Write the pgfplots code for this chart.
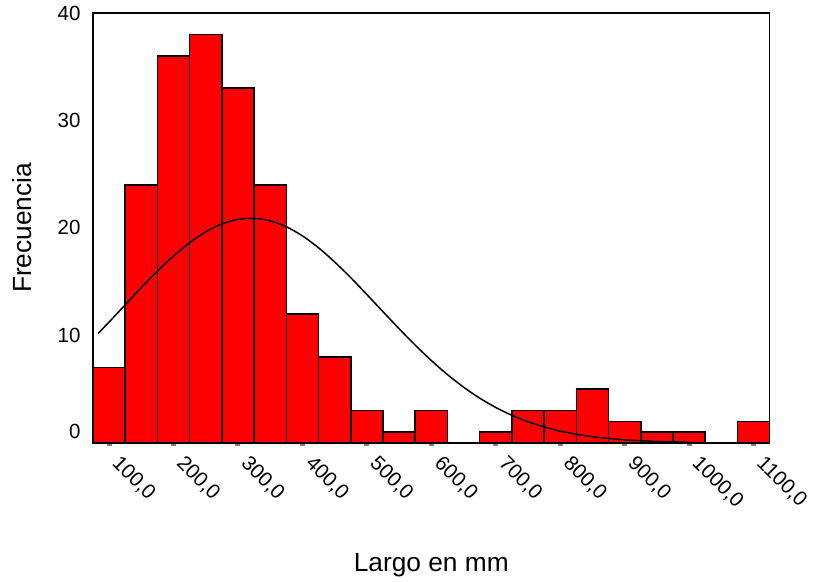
\documentclass[border=0pt]{standalone}
\usepackage{fontspec}
\setmainfont{Liberation Sans}
\usepackage{pgfplots}
\pgfplotsset{compat=1.18}
\begin{document}
\begin{tikzpicture}
\begin{axis}[
  width=677pt, height=430pt, scale only axis,
  xmin=75, xmax=1125, ymin=0, ymax=40,
  axis line style={line width=1.5pt},
  xtick={100,200,300,400,500,600,700,800,900,1000,1100},
  xticklabels={{100,0},{200,0},{300,0},{400,0},{500,0},{600,0},{700,0},{800,0},{900,0},{1000,0},{1100,0}},
  xticklabel style={font=\fontsize{20.5}{24}\selectfont, xshift=4pt, yshift=-12pt, rotate=-45, anchor=west},
  xtick pos=bottom, tick align=outside,
  major tick length=3pt,
  xtick style={draw=gray, line width=5pt},
  ytick={10,20,30,40},
  extra y ticks={0},
  extra y tick style={yticklabel style={yshift=11pt}},
  ytick style={draw=none},
  yticklabel style={font=\fontsize{20.5}{24}\selectfont, xshift=-6pt},
  /pgf/number format/assume math mode=true,
  label style={font=\fontsize{26.3}{30}\selectfont},
  xlabel={Largo en mm},
  ylabel={Frecuencia},
  xlabel style={at={(axis description cs:0.5,-0.2837)}, anchor=center},
  ylabel style={at={(axis description cs:-0.1049,0.5)}, anchor=center},
  clip=false,
  axis on top,
]
\addplot[ybar interval, fill=red, draw=black, line width=1.5pt] coordinates {
(75,7) (125,24) (175,36) (225,38) (275,33) (325,24) (375,12) (425,8) (475,3) (525,1)
(575,3) (625,0) (675,1) (725,3) (775,3) (825,5) (875,2) (925,1) (975,1) (1025,0)
(1075,2) (1125,2)
};
\addplot[black, line width=1.5pt, smooth, mark=none] coordinates {
(83,10.18) (100,11.24) (125,12.84) (150,14.44) (175,15.97) (200,17.38) (225,18.62)
(250,19.63) (275,20.37) (300,20.79) (325,20.89) (350,20.66) (375,20.11) (400,19.26)
(425,18.15) (450,16.83) (475,15.37) (500,13.80) (525,12.20) (550,10.62) (575,9.09)
(600,7.66) (625,6.35) (650,5.18) (675,4.16) (700,3.29) (725,2.56) (750,1.96)
(775,1.48) (800,1.09) (825,0.80) (850,0.57) (875,0.41) (900,0.28) (925,0.19)
(950,0.13) (975,0.086) (1000,0.056)
};
\end{axis}
\path ([shift={(-93pt,-139pt)}]current axis.south west) rectangle ([shift={(44pt,13pt)}]current axis.north east);
\end{tikzpicture}
\end{document}
